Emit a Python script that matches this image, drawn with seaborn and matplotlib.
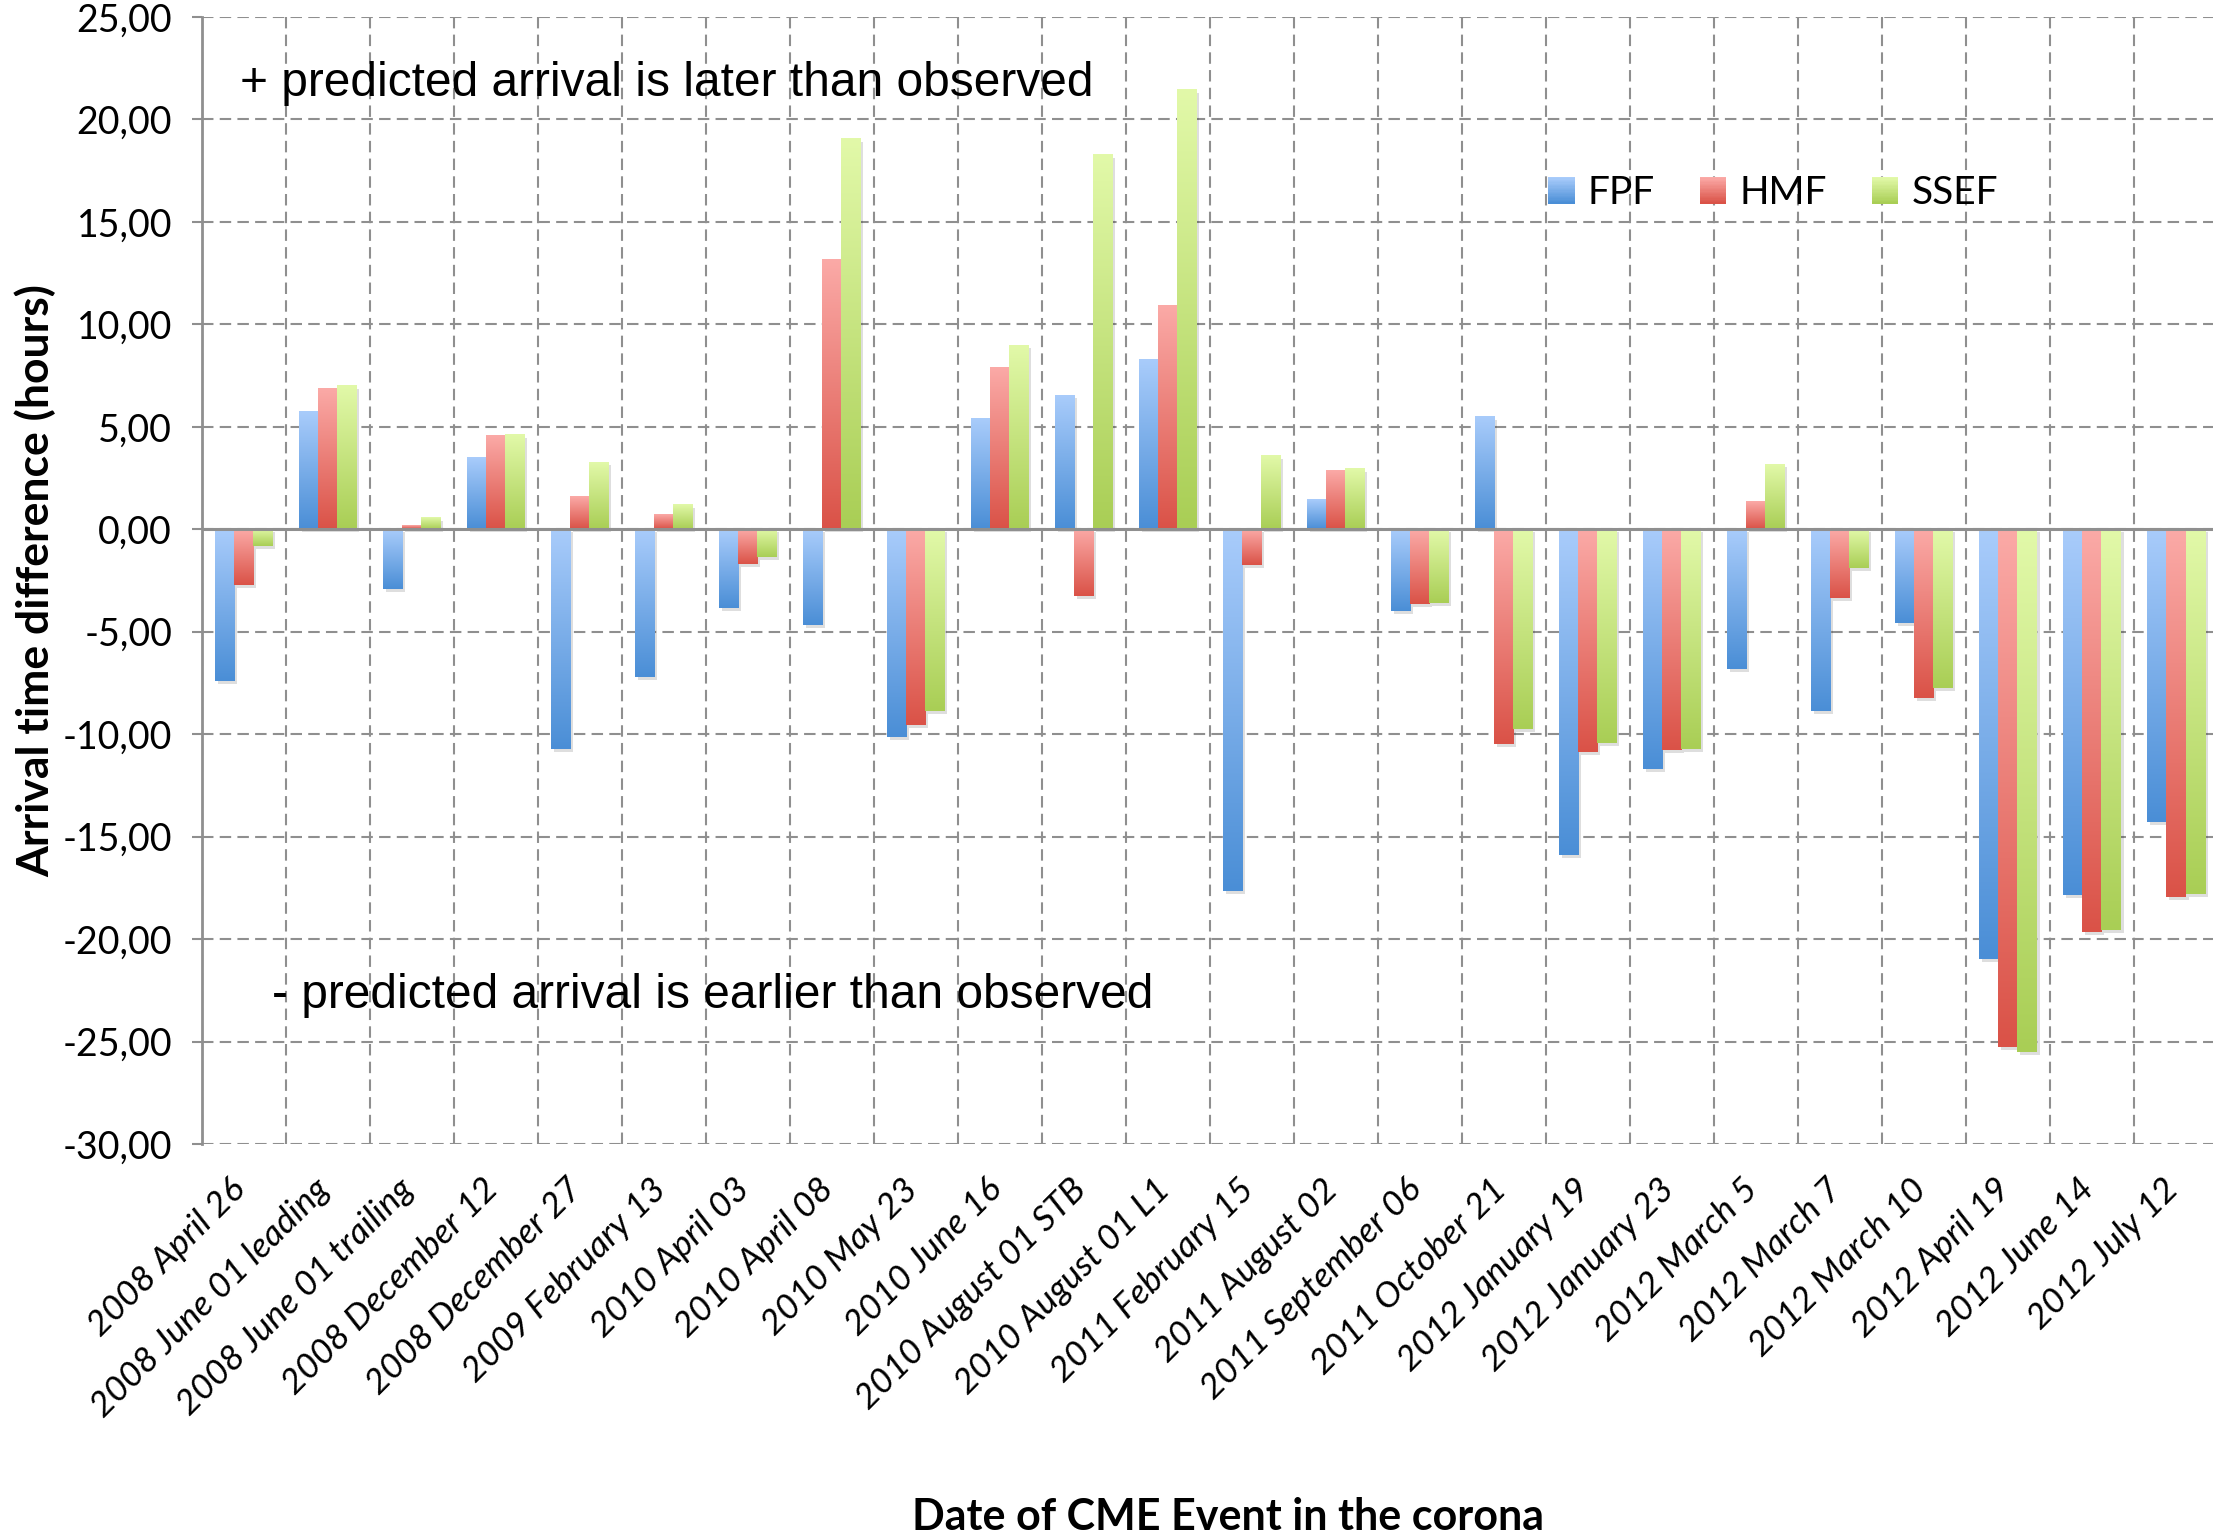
import numpy as np
import pandas as pd
import matplotlib
matplotlib.use("Agg")
import matplotlib.pyplot as plt
import seaborn as sns
from matplotlib.patches import Rectangle, Patch
from matplotlib.legend_handler import HandlerBase
from matplotlib.ticker import FuncFormatter, FixedLocator
from matplotlib.transforms import ScaledTranslation
import matplotlib.colors as mcolors

# ---------------- data ----------------
events = ["2008 April 26", "2008 June 01 leading", "2008 June 01 trailing",
          "2008 December 12", "2008 December 27", "2009 February 13",
          "2010 April 03", "2010 April 08", "2010 May 23", "2010 June 16",
          "2010 August 01 STB", "2010 August 01 L1", "2011 February 15",
          "2011 August 02", "2011 September 06", "2011 October 21",
          "2012 January 19", "2012 January 23", "2012 March 5", "2012 March 7",
          "2012 March 10", "2012 April 19", "2012 June 14", "2012 July 12"]
fpf = [-7.41, 5.73, -2.90, 3.49, -10.74, -7.19, -3.83, -4.68, -10.13, 5.41,
       6.53, 8.28, -17.65, 1.44, -3.97, 5.50, -15.90, -11.72, -6.82, -8.87,
       -4.55, -20.98, -17.86, -14.31]
hmf = [-2.70, 6.85, 0.19, 4.57, 1.59, 0.71, -1.68, 13.15, -9.54, 7.89,
       -3.27, 10.91, -1.72, 2.84, -3.66, -10.46, -10.85, -10.78, 1.36, -3.33,
       -8.21, -25.29, -19.63, -17.93]
ssef = [-0.83, 7.00, 0.56, 4.60, 3.26, 1.19, -1.37, 19.07, -8.87, 8.97,
        18.28, 21.46, 3.58, 2.93, -3.59, -9.76, -10.44, -10.70, 3.17, -1.90,
        -7.73, -25.49, -19.54, -17.82]
series = ["FPF", "HMF", "SSEF"]
yticks = [-30, -25, -20, -15, -10, -5, 0, 5, 10, 15, 20, 25]

df = pd.DataFrame({
    "event": events * 3,
    "model": [s for s in series for _ in events],
    "value": fpf + hmf + ssef,
})

# ---------------- style ----------------
mid = {"FPF": "#78ACE8", "HMF": "#EA7D76", "SSEF": "#C6E47E"}
grad = {
    "FPF": ("#A9CCFB", "#4A8ED6"),
    "HMF": ("#FBAAA7", "#DA5247"),
    "SSEF": ("#E2F9A9", "#A9CE55"),
}
grid_c = "#8f8f8f"

W, H, DPI = 2213, 1539, 100
fig = plt.figure(figsize=(W / DPI, H / DPI), dpi=DPI)
left_px, right_px, top_px, bot_px = 201.5, 2218, 17, 1144
ax = fig.add_axes([left_px / W, 1 - bot_px / H, (right_px - left_px) / W, (bot_px - top_px) / H])

sns.barplot(data=df, x="event", y="value", hue="model", order=events,
            hue_order=series, palette=mid, width=0.68, legend=False,
            errorbar=None, ax=ax, saturation=1)

# gradient fills + shadows
color_to_series = {mcolors.to_hex(mid[s]): s for s in series}
shadow_tr = ax.transData + ScaledTranslation(3 / DPI, -3 / DPI, fig.dpi_scale_trans)
for p in list(ax.patches):
    fc = mcolors.to_hex(p.get_facecolor()[:3])
    s = color_to_series.get(fc)
    if s is None:
        continue
    x, y = p.get_x(), p.get_y()
    w, h = p.get_width(), p.get_height()
    y0, y1 = min(y, y + h), max(y, y + h)
    if y1 - y0 <= 0:
        continue
    light, dark = grad[s]
    cmap = mcolors.LinearSegmentedColormap.from_list("g", [light, dark])
    arr = np.linspace(0, 1, 256).reshape(-1, 1)
    ax.imshow(arr, cmap=cmap, extent=[x, x + w, y0, y1], origin="upper",
              aspect="auto", zorder=2.2, interpolation="bilinear")
    sh = Rectangle((x, y0), w, y1 - y0, facecolor="black", alpha=0.13,
                   edgecolor="none", transform=shadow_tr, zorder=2.0)
    ax.add_patch(sh)
    p.set_visible(False)

ax.set_xlim(-0.5, len(events) - 0.5)
ax.set_ylim(-30, 25)

# axes / grid
for sp in ["top", "right", "bottom"]:
    ax.spines[sp].set_visible(False)
ax.spines["left"].set_color(grid_c)
ax.spines["left"].set_linewidth(2.0)
ax.spines["left"].set_zorder(3)

ax.yaxis.set_major_locator(FixedLocator(yticks))
ax.yaxis.set_major_formatter(FuncFormatter(lambda v, _: f"{v:.2f}".replace(".", ",")))
ax.set_xticks(np.arange(len(events)))
ax.set_xticks(np.arange(len(events) + 1) - 0.5, minor=True)
ax.set_axisbelow(True)
dash = (0, (5.5, 3.0))
ax.grid(True, axis="y", which="major", color=grid_c, linestyle=dash, linewidth=1.5)
ax.grid(True, axis="x", which="minor", color=grid_c, linestyle=dash, linewidth=1.5)
ax.grid(False, axis="x", which="major")
ax.axhline(0, color=grid_c, linewidth=2.2, zorder=3)

ax.tick_params(axis="y", length=7.2, width=1.5, color=grid_c, pad=14,
               labelsize=27, labelcolor="black")
for t in ax.get_yticklabels():
    t.set_fontfamily(["Lato", "DejaVu Sans"])
ax.tick_params(axis="x", which="major", length=0, pad=29)
ax.tick_params(axis="x", which="minor", length=0)
ax.set_xticklabels(events, rotation=45, ha="right", va="center",
                   rotation_mode="anchor", fontsize=25.5, fontstyle="italic",
                   fontfamily=["Lato", "DejaVu Sans"])
off = ScaledTranslation(-3 / DPI, 0, fig.dpi_scale_trans)
for t in ax.get_xticklabels():
    t.set_transform(t.get_transform() + off)

ax.set_xlabel("Date of CME Event in the corona", fontsize=31, fontweight="bold",
              fontfamily=["Lato", "DejaVu Sans"], va="center")
ax.xaxis.set_label_coords((1228 - left_px) / (right_px - left_px),
                          -(1517 - bot_px) / (bot_px - top_px))
ax.set_ylabel("Arrival time difference (hours)", fontsize=32, fontweight="bold",
              fontfamily=["Lato", "DejaVu Sans"], va="center")
ax.yaxis.set_label_coords((35 - left_px) / (right_px - left_px), 0.5)

ax.text(-0.04, 21.75, "+ predicted arrival is later than observed", fontsize=34.5,
        fontfamily=["Liberation Sans", "DejaVu Sans"], va="center", ha="left", zorder=4)
ax.text(0.34, -22.75, "- predicted arrival is earlier than observed", fontsize=34.5,
        fontfamily=["Liberation Sans", "DejaVu Sans"], va="center", ha="left", zorder=4)

# legend with gradient squares
class GradHandler(HandlerBase):
    def __init__(self, light, dark):
        super().__init__()
        self.light = np.array(mcolors.to_rgb(light))
        self.dark = np.array(mcolors.to_rgb(dark))

    def create_artists(self, legend, orig_handle, xdescent, ydescent, width,
                       height, fontsize, trans):
        n = 20
        arts = []
        for i in range(n):
            f = i / (n - 1)
            c = self.light * (1 - f) + self.dark * f
            yb = -ydescent + height * (1 - (i + 1) / n)
            arts.append(Rectangle((-xdescent, yb), width, height / n * 1.05,
                                  facecolor=c, edgecolor="none", transform=trans))
        return arts

handles = [Patch(facecolor=mid[s], label=s) for s in series]
hmap = {h: GradHandler(*grad[s]) for h, s in zip(handles, series)}
ax.legend(handles=handles, handler_map=hmap, loc="center left",
          bbox_to_anchor=(1548 / W, 1 - 193 / H), bbox_transform=fig.transFigure,
          ncol=3, frameon=False, borderpad=0, borderaxespad=0,
          handlelength=0.69, handleheight=0.69, handletextpad=0.33,
          columnspacing=1.15, prop={"family": ["Lato", "DejaVu Sans"], "size": 28})

fig.savefig("out.png", dpi=DPI)
